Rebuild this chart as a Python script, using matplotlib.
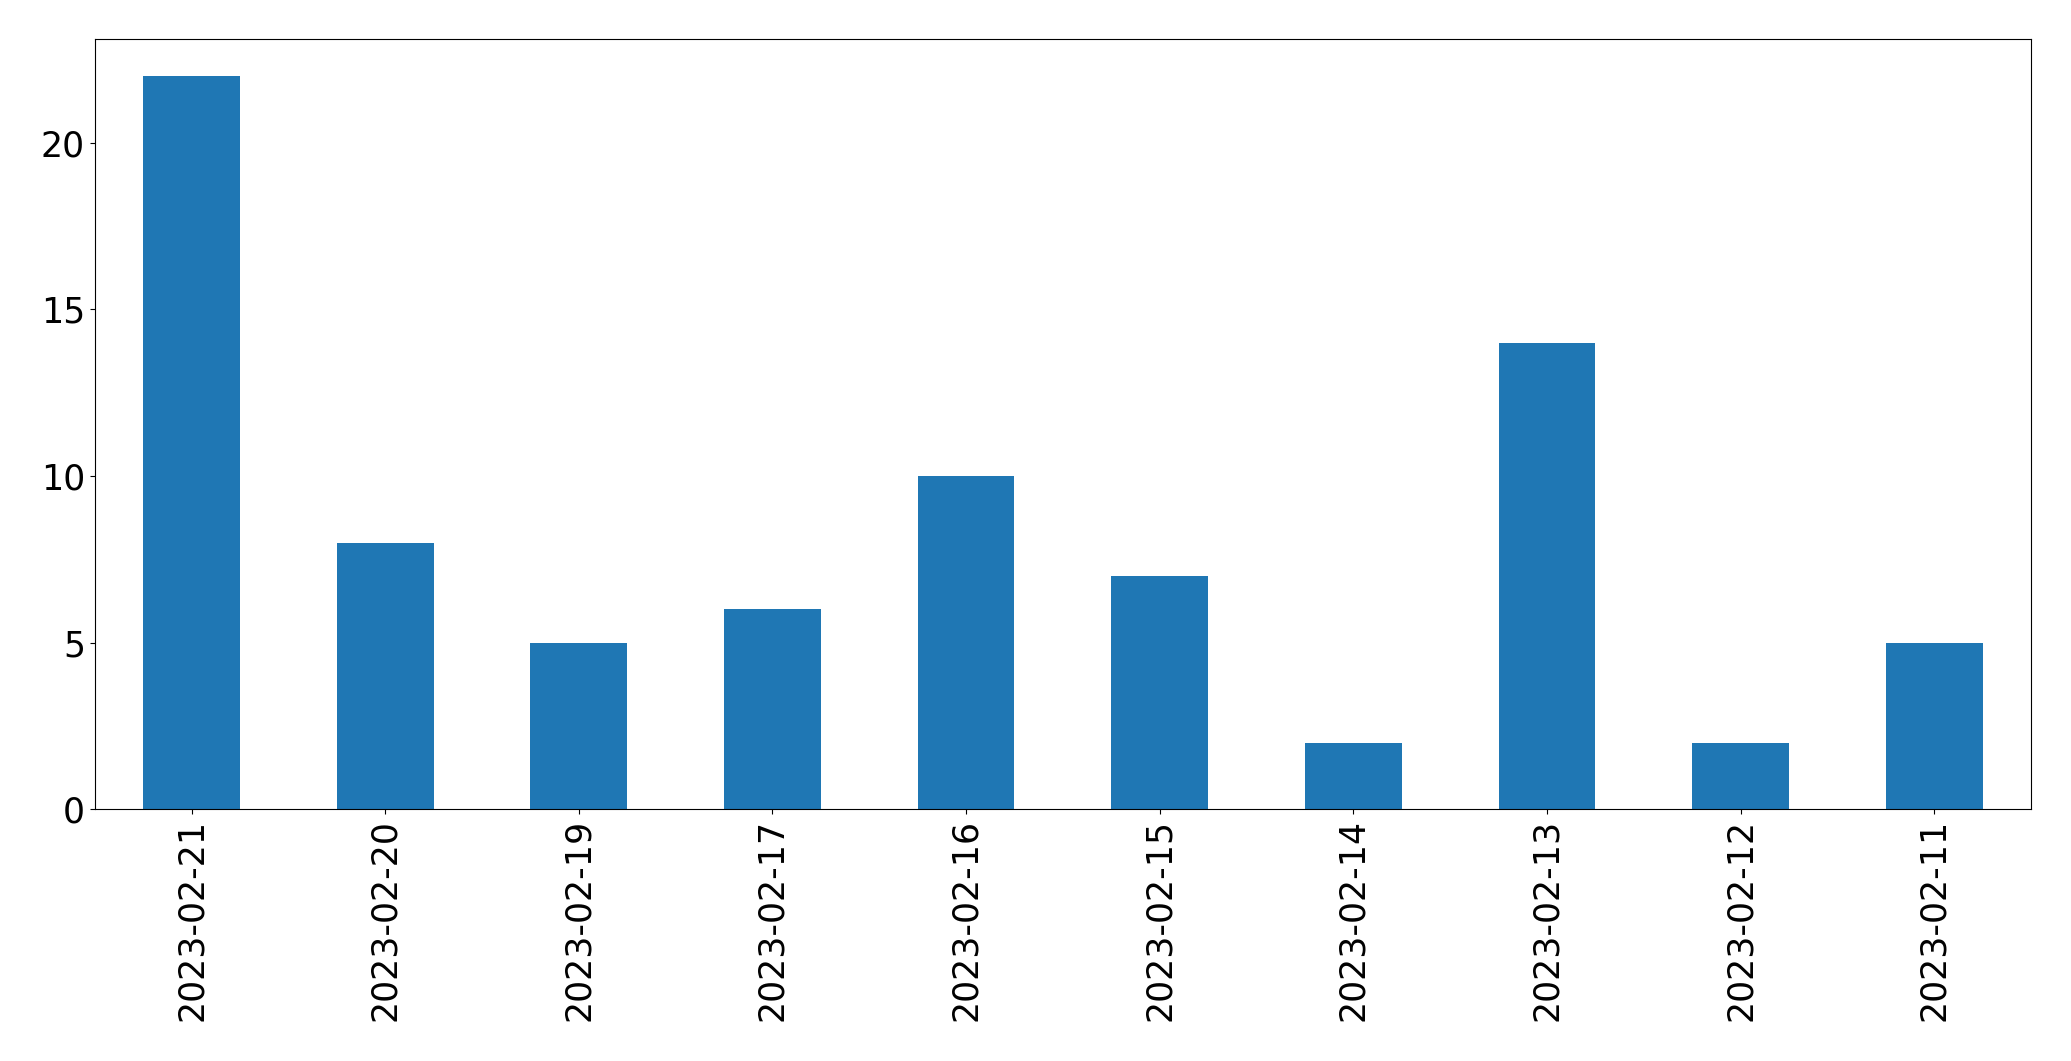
import matplotlib
matplotlib.use('Agg')
import matplotlib.pyplot as plt
import pandas as pd

# daily counts, in the order they appear on the chart
dates = ['2023-02-21', '2023-02-20', '2023-02-19', '2023-02-17', '2023-02-16',
         '2023-02-15', '2023-02-14', '2023-02-13', '2023-02-12', '2023-02-11']
counts = [22, 8, 5, 6, 10, 7, 2, 14, 2, 5]

s = pd.Series(counts, index=dates)

fig = plt.figure(figsize=(20.71, 10.61), dpi=100)
ax = fig.add_subplot(111)
fig.subplots_adjust(left=94.7 / 2071, right=2031 / 2071,
                    top=1 - 39.3 / 1061, bottom=1 - 809.3 / 1061)

s.plot(kind='bar', ax=ax, color='#1f77b4')
ax.tick_params(axis='both', labelsize=25)

fig.savefig('out.png', dpi=100)
